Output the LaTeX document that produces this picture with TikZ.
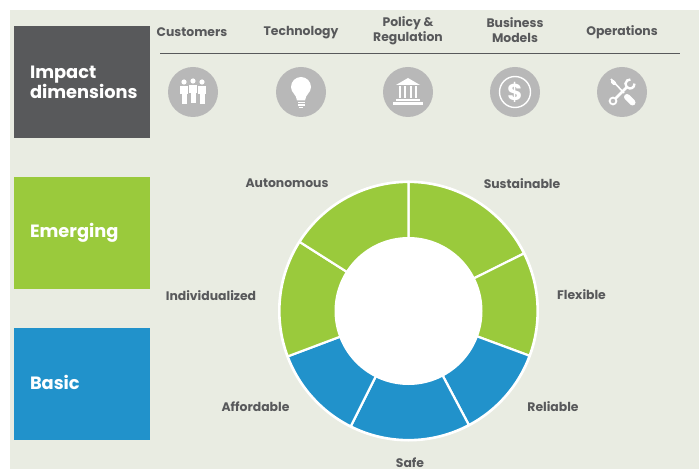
\documentclass[tikz,border=0pt]{standalone}
\usepackage{fontspec}
\setmainfont{Poppins}
\usepackage{xcolor}
\definecolor{panelgrey}{HTML}{E9ECE2}
\definecolor{darkgrey}{HTML}{58595B}
\definecolor{icongrey}{HTML}{B8B8B8}
\definecolor{leafgreen}{HTML}{9ACA3C}
\definecolor{seablue}{HTML}{2192CB}
\tikzset{
    box/.style={minimum width=136pt,minimum height=112pt,inner xsep=16pt,text width=104pt,align=left,
        text=white,font=\fontsize{17.8}{20}\selectfont\bfseries},
    head/.style={text=darkgrey,align=center,inner sep=0pt,font=\fontsize{12.4}{15}\selectfont\bfseries},
    badge/.style={circle,fill=icongrey,minimum size=50pt,inner sep=0pt},
    glyph/.style={fill=white,draw=none},
}
\begin{document}
\begin{tikzpicture}[x=1pt,y=1pt]
    \useasboundingbox (0,0) rectangle (699,469);
    \fill[white] (0,0) rectangle (699,469);
    \fill[panelgrey] (10,0) rectangle (699,459);
    % left column
    \node[box,fill=darkgrey] (impact) at (82,387) {Impact\\dimensions};
    \node[box,fill=leafgreen] (emerging) at (82,236) {Emerging};
    \node[box,fill=seablue,text depth=3pt] (basic) at (82,85) {Basic};
    % top row
    \node[head] (customers) at (192,437) {Customers};
    \node[head] (technology) at (301,436.5) {Technology};
    \node[head] (policy) at (408,438) {Policy \&\\Regulation};
    \node[head] (business) at (515,438.5) {Business\\Models};
    \node[head] (operations) at (622,437) {Operations};
    \draw[darkgrey,line width=0.8pt] (160,416) -- (680,416);
    \node[badge] (people) at (193,377) {};
    \node[badge] (bulb) at (301,377) {};
    \node[badge] (bank) at (408,377) {};
    \node[badge] (dollar) at (515,377) {};
    \node[badge] (tools) at (622,377) {};
    % people
    \begin{scope}[shift={(people.center)}]
        \foreach \x/\h in {-9/10,9/10,0/11} {
            \fill[white] (\x,\h) circle (2.6);
            \fill[glyph,draw=icongrey,line width=0.5pt] (\x-4.5,\h-3.5) -- (\x+4.5,\h-3.5) -- (\x+4.5,\h-12)
                -- (\x+2.8,\h-12) -- (\x+2.8,\h-22) -- (\x-2.8,\h-22) -- (\x-2.8,\h-12) -- (\x-4.5,\h-12) -- cycle;
        }
    \end{scope}
    % bulb
    \begin{scope}[shift={(bulb.center)}]
        \fill[glyph] (-4,-8.5) .. controls (-4.5,-2) and (-10,-1) .. (-10,5) arc (180:0:10)
            .. controls (10,-1) and (4.5,-2) .. (4,-8.5) -- cycle;
        \fill[glyph] (-3.5,-10) rectangle (3.5,-11.5);
        \fill[glyph] (-3.5,-12.5) rectangle (3.5,-14);
        \fill[glyph] (-2.2,-15) rectangle (2.2,-16.5);
    \end{scope}
    % bank
    \begin{scope}[shift={(bank.center)}]
        \fill[glyph] (0,14) -- (12,7) -- (-12,7) -- cycle;
        \foreach \x in {-8,-3,3,8} {
            \fill[glyph] (\x-1.4,5.5) rectangle (\x+1.4,-6);
        }
        \fill[glyph] (-12,-7) rectangle (12,-9);
        \fill[glyph] (-15,-10.5) rectangle (15,-13);
    \end{scope}
    % dollar
    \draw[white,line width=1.4pt] (dollar.center) circle (15.5);
    \node[text=white,font=\fontsize{23}{23}\selectfont\bfseries] (dollarsign) at (dollar.center) {\$};
    % tools
    \begin{scope}[shift={(tools.center)}]
        \draw[white,line width=1.6pt] (-11,13) -- (2,-1);
        \draw[white,line width=3.6pt,line cap=round] (-9.5,10.5) -- (-7.5,8.5);
        \draw[white,line width=6pt,line cap=round] (5,-5) -- (10.5,-10.5);
        \draw[white,line width=1.8pt] (-9,-9) circle (3.4);
        \draw[white,line width=2.6pt] (-6.5,-6.5) -- (5,5);
        \draw[white,line width=2.4pt] (8.4,12.5) arc (85:365:4.5);
    \end{scope}
    % wheel
    \begin{scope}[shift={(408.5,158)}]
        \fill[white] (0,0) circle (130.5);
        \foreach \from/\to/\shade in {90/26.5/leafgreen,26.5/-20.3/leafgreen,-20.3/-62.1/seablue,-62.1/-116.6/seablue,
            -116.6/-159.4/seablue,-159.4/-212.4/leafgreen,-212.4/-270/leafgreen} {
            \filldraw[fill=\shade,draw=white,line width=2.2pt] (0,0) -- (\from:129) arc (\from:\to:129) -- cycle;
        }
        \fill[white] (0,0) circle (74);
    \end{scope}
    % wheel labels
    \node[head] (autonomous) at (287,285.5) {Autonomous};
    \node[head] (sustainable) at (522,285.5) {Sustainable};
    \node[head] (individualized) at (211,173.5) {Individualized};
    \node[head] (flexible) at (581.5,174) {Flexible};
    \node[head] (affordable) at (255.5,62.5) {Affordable};
    \node[head] (reliable) at (553,62.5) {Reliable};
    \node[head] (safe) at (410,6) {Safe};
\end{tikzpicture}
\end{document}
